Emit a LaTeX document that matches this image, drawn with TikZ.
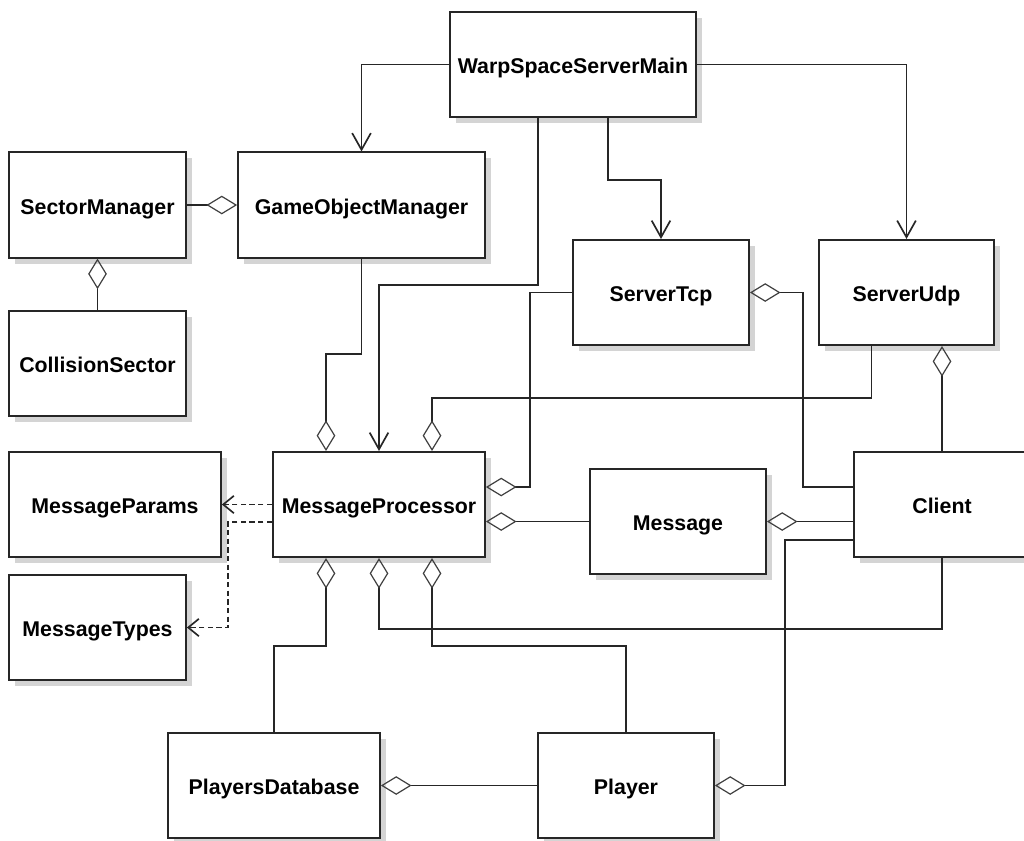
\documentclass[tikz,border=0pt]{standalone}
\usepackage{fontspec}
\setmainfont{Liberation Sans}
\usetikzlibrary{arrows.meta,calc,shadows}

\begin{document}
\begin{tikzpicture}[x=0.75pt,y=-0.75pt,
  cls/.style={draw=black!85, line width=1.3pt, fill=white, inner sep=0pt,
    minimum height=79pt, text height=13.6pt, text depth=0pt,
    font=\fontsize{16}{18}\selectfont\bfseries,
    drop shadow={shadow xshift=4.5pt, shadow yshift=-4.5pt, fill=black!17, opacity=1}},
  conn/.style={line width=1.25pt, draw=black!85},
  assoc/.style={conn, -{Straight Barb[length=12.5pt, width=14pt, line width=1.25pt]}},
  agg/.style={conn, {Diamond[open, length=23pt, width=14pt, line width=0.9pt, color=black!75]}-},
  dep/.style={conn, dash pattern=on 4pt off 2.5pt, -{Straight Barb[length=8pt, width=13pt, line width=1.25pt]}}]

\useasboundingbox (0,0) rectangle (1024,840);
\clip (0,0) rectangle (1024,840);
\fill[white] (0,0) rectangle (1024,840);

% classes
\node[cls, minimum width=184.5pt] (warp)    at (573,64.5)   {WarpSpaceServerMain};
\node[cls, minimum width=132.75pt] (sector) at (97.5,205)   {SectorManager};
\node[cls, minimum width=185.25pt] (gom)    at (361.5,205)  {GameObjectManager};
\node[cls, minimum width=132.75pt] (coll)   at (97.5,363.5) {CollisionSector};
\node[cls, minimum width=132pt] (tcp)       at (661,292.5)  {ServerTcp};
\node[cls, minimum width=131.25pt] (udp)    at (906.5,292.5){ServerUdp};
\node[cls, minimum width=159pt] (params)    at (115,504.5)  {MessageParams};
\node[cls, minimum width=159pt] (mp)        at (379,504.5)  {MessageProcessor};
\node[cls, minimum width=132pt] (message)   at (678,521.5)  {Message};
\node[cls, minimum width=132pt] (client)    at (942,504.5)  {Client};
\node[cls, minimum width=132.75pt] (types)  at (97.5,627.5) {MessageTypes};
\node[cls, minimum width=159pt] (pd)        at (274,785.5)  {PlayersDatabase};
\node[cls, minimum width=132pt] (player)    at (626,785.5)  {Player};

% associations from the main class
\draw[assoc] (warp.west) -| (gom.north);
\draw[assoc] (warp.east) -| (udp.north);
\draw[assoc] ($(warp.south)+(35,0)$) -- ++(0,62) -| (tcp.north);
\draw[assoc] ($(warp.south)+(-35,0)$) -- ++(0,167) -| (mp.north);

% aggregations
\draw[agg] (gom.west) -- (sector.east);
\draw[agg] (sector.south) -- (coll.north);
\draw[agg] ($(mp.north)+(-53,0)$) -- ++(0,-97) -| (gom.south);
\draw[agg] ($(mp.north)+(53,0)$) -- ++(0,-53) -| ($(udp.south)+(-35,0)$);
\draw[agg] ($(mp.east)+(0,-17.5)$) -- ++(44,0) |- (tcp.west);
\draw[agg] (mp.east |- message.west) -- (message.west);
\draw[agg] (tcp.east) -- ++(53,0) |- ($(client.west)+(0,-17.5)$);
\draw[agg] (client.north |- udp.south) -- (client.north);
\draw[agg] (message.east) -- (message.east -| client.west);
\draw[agg] (player.east) -- ++(70,0) |- ($(client.west)+(0,35.5)$);
\draw[agg] (mp.south) -- ++(0,71) -| (client.south);
\draw[agg] ($(mp.south)+(53,0)$) -- ++(0,88) -| (player.north);
\draw[agg] ($(mp.south)+(-53,0)$) -- ++(0,88) -| (pd.north);
\draw[agg] (pd.east) -- (player.west);

% dependencies
\draw[dep] (mp.west) -- (params.east);
\draw[dep] ($(mp.west)+(0,17.5)$) -- ++(-44,0) |- (types.east);
\end{tikzpicture}
\end{document}
